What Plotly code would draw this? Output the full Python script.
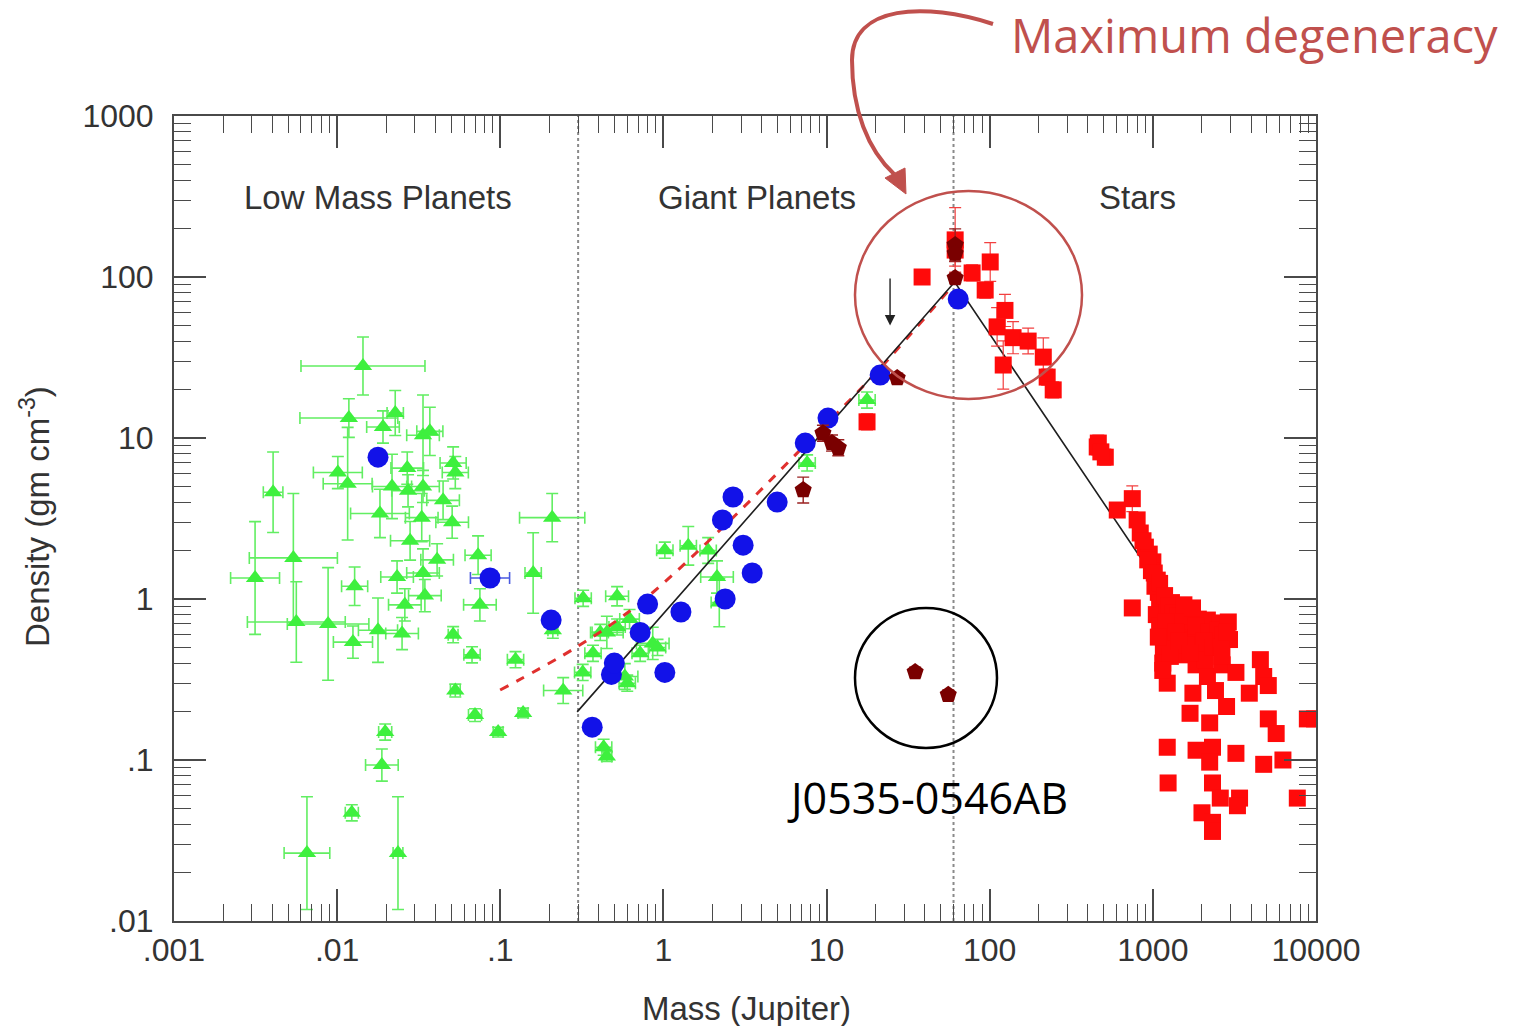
import numpy as np
import plotly.graph_objects as go

W, H = 1513, 1026

# ---------------- data ----------------
# Low-mass and giant planets (green triangles): mass [M_Jup], density [g/cm^3],
# and +/- uncertainties expressed in dex
planet_mass = [0.0144, 0.0118, 0.0227, 0.0191, 0.0336, 0.037, 0.0514, 0.053, 0.00405, 0.0101,
               0.0116, 0.0269, 0.0217, 0.0272, 0.0336, 0.0446, 0.0183, 0.033, 0.0507, 0.028,
               0.208, 0.00539, 0.00314, 0.0731, 0.159, 0.0128, 0.0233, 0.0336, 0.041, 0.026,
               0.0345, 0.075, 0.21, 0.00562, 0.0088, 0.0125, 0.0178, 0.025, 0.0514, 0.0671,
               0.124, 0.053, 0.070, 0.097, 0.138, 0.243, 0.0197, 0.0188, 0.0123, 0.00653,
               0.0236, 1.02, 1.42, 1.88, 0.322, 0.52, 2.13, 2.2, 0.45, 0.86,
               0.43, 0.45, 0.58, 0.41, 0.52, 0.37, 0.72, 0.92, 0.32, 0.60,
               0.62, 7.6, 17.7]
planet_dens = [28.0, 13.3, 14.3, 11.7, 10.4, 11.0, 7.0, 6.1, 4.6, 6.1,
               5.2, 6.5, 5.0, 4.7, 5.0, 4.1, 3.4, 3.2, 3.0, 2.3,
               3.2, 1.8, 1.35, 1.87, 1.45, 1.2, 1.37, 1.45, 1.75, 0.92,
               1.05, 0.92, 0.64, 0.72, 0.70, 0.54, 0.64, 0.61, 0.60, 0.45,
               0.42, 0.27, 0.19, 0.149, 0.196, 0.27, 0.149, 0.093, 0.047, 0.0264,
               0.0264, 2.01, 2.14, 2.0, 1.01, 1.04, 1.37, 0.95, 0.62, 0.53,
               0.12, 0.105, 0.33, 0.62, 0.67, 0.46, 0.46, 0.50, 0.35, 0.30,
               0.75, 7.0, 17.2]
planet_mass_err = [0.38, 0.30, 0.05, 0.10, 0.10, 0.08, 0.08, 0.08, 0.06, 0.15,
                   0.15, 0.10, 0.12, 0.10, 0.10, 0.10, 0.18, 0.10, 0.10, 0.12,
                   0.20, 0.27, 0.15, 0.08, 0.05, 0.08, 0.10, 0.10, 0.10, 0.10,
                   0.10, 0.10, 0.03, 0.30, 0.25, 0.12, 0.12, 0.10, 0.03, 0.05,
                   0.05, 0.03, 0.04, 0.03, 0.03, 0.12, 0.04, 0.10, 0.04, 0.14,
                   0.03, 0.05, 0.05, 0.05, 0.05, 0.07, 0.10, 0.05, 0.10, 0.10,
                   0.05, 0.03, 0.08, 0.05, 0.05, 0.05, 0.05, 0.05, 0.05, 0.05,
                   0.06, 0.05, 0.05]
planet_dens_err = [0.18, 0.12, 0.14, 0.10, 0.25, 0.15, 0.10, 0.10, 0.25, 0.10,
                   0.35, 0.10, 0.20, 0.10, 0.10, 0.12, 0.15, 0.15, 0.10, 0.12,
                   0.15, 0.40, 0.35, 0.12, 0.25, 0.12, 0.10, 0.15, 0.10, 0.10,
                   0.10, 0.10, 0.05, 0.25, 0.35, 0.10, 0.20, 0.10, 0.05, 0.05,
                   0.05, 0.04, 0.04, 0.03, 0.03, 0.08, 0.05, 0.10, 0.05, 0.35,
                   0.35, 0.05, 0.12, 0.08, 0.05, 0.06, 0.10, 0.15, 0.10, 0.10,
                   0.05, 0.03, 0.08, 0.05, 0.05, 0.05, 0.05, 0.05, 0.05, 0.05,
                   0.06, 0.05, 0.05]

# Transiting planets with measured radii (blue circles)
transit_mass = [0.0178, 0.0865, 0.205, 0.366, 0.48, 0.50, 0.72, 0.80, 1.02, 1.28,
                2.39, 2.30, 2.67, 3.08, 3.5, 4.98, 7.4, 10.2, 21.3, 64.1]
transit_dens = [7.6, 1.35, 0.74, 0.160, 0.34, 0.40, 0.62, 0.93, 0.35, 0.83,
                1.0, 3.1, 4.3, 2.16, 1.45, 4.0, 9.3, 13.3, 24.6, 72.9]
transit_mass_err = [0.03, 0.12, 0.04, 0, 0, 0, 0, 0, 0, 0,
                    0, 0, 0, 0, 0, 0, 0, 0, 0, 0]

# Brown dwarfs (dark red pentagons)
bd_mass = [7.19, 9.5, 10.8, 11.8, 27.1, 34.9, 55.7, 61.4, 61.4, 61.4]
bd_dens = [4.75, 10.7, 9.3, 8.7, 23.6, 0.352, 0.254, 158, 140, 98.6]
bd_dens_err = [0.08, 0.05, 0.05, 0.05, 0.03, 0.03, 0.03, 0.10, 0.05, 0.03]

# Low-mass stars (red squares)
star_mass = [17.7, 38.5, 61.4, 61.4, 100.7, 78, 93.8, 124, 111, 139,
             172, 121, 213, 225, 245, 463, 456, 511, 480, 748,
             605, 801, 837, 900, 950, 1000, 980, 1064, 748, 1120,
             1030, 1080, 1100, 1050, 1225, 1300, 1350, 1470, 1500, 1600,
             1695, 1650, 1900, 2000, 2158, 2590, 1160, 1400, 1840, 2420,
             1300, 1500, 1160, 1225, 1840, 2160, 2660, 3230, 4560, 4780,
             3900, 5100, 1760, 2420, 1690, 2830, 5100, 2230, 5700, 1225,
             1840, 2320, 3230, 4780, 6270, 8850, 9800, 1240, 2230, 2320,
             2590, 3400, 3300, 2000, 2320, 2320, 7680, 1900, 2100, 1150,
             870, 930, 1020, 1100, 1180, 1250, 1320, 1420, 1550, 1750,
             1850, 2200, 2500, 2700, 2900, 2950, 1100, 1200, 1380, 1600,
             2050, 2350, 2600, 2850, 1280, 1450, 1700, 1080, 1150, 2650]
star_dens = [12.6, 100, 170, 147, 124, 106, 83, 62, 49, 42,
             40, 28.4, 31.8, 23.9, 19.9, 9.3, 8.8, 7.6, 8.2, 4.2,
             3.57, 3.1, 2.57, 2.1, 1.9, 1.7, 1.5, 1.31, 0.88, 1.0,
             1.2, 1.1, 0.95, 0.8, 0.83, 0.95, 0.75, 0.86, 0.7, 0.6,
             0.71, 0.8, 0.75, 0.65, 0.74, 0.71, 0.62, 0.57, 0.57, 0.53,
             0.5, 0.45, 0.46, 0.30, 0.39, 0.33, 0.39, 0.35, 0.42, 0.33,
             0.26, 0.29, 0.26, 0.27, 0.195, 0.215, 0.18, 0.17, 0.146, 0.12,
             0.115, 0.12, 0.11, 0.094, 0.10, 0.18, 0.18, 0.072, 0.097, 0.072,
             0.058, 0.058, 0.052, 0.047, 0.041, 0.036, 0.058, 0.5, 0.42, 0.40,
             2.3, 1.75, 1.45, 1.25, 1.05, 0.9, 0.82, 0.78, 0.92, 0.88,
             0.68, 0.62, 0.64, 0.6, 0.72, 0.56, 0.68, 0.72, 0.62, 0.52,
             0.55, 0.5, 0.5, 0.62, 0.44, 0.55, 0.46, 0.58, 0.36, 0.44]
star_dens_err = ([0.05, 0, 0.2, 0.1, 0.12, 0.05, 0.05, 0.1, 0.12, 0.1,
                  0.08, 0.15, 0.12, 0.05, 0.05, 0.05, 0.05, 0.05, 0, 0.08]
                 + [0] * 100)

# Model relations: solid power-law fit and dashed polytrope curve
fit_mass = [0.296, 61.0, 991.0]
fit_dens = [0.199, 93.0, 1.41]
poly_mass = [0.0998, 0.288, 0.719, 2.46, 7.19, 20.0, 55.0]
poly_dens = [0.272, 0.497, 0.944, 2.96, 8.8, 25.3, 81.0]

# Region boundaries [M_Jup]
boundary_mass = [0.3, 60.0]

# Upper-limit arrow position
limit_mass = 24.5
limit_dens = [100.0, 50.0]

x_tickvals = [0.001, 0.01, 0.1, 1, 10, 100, 1000, 10000]
x_ticktext = [".001", ".01", ".1", "1", "10", "100", "1000", "10000"]
y_tickvals = [0.01, 0.1, 1, 10, 100, 1000]
y_ticktext = [".01", ".1", "1", "10", "100", "1000"]

region_labels = ["Low Mass Planets", "Giant Planets", "Stars"]


# ---------------- helpers ----------------
def log_err(vals, dex):
    v = np.asarray(vals, float)
    e = np.asarray(dex, float)
    return v * (10 ** e - 1), v * (1 - 10 ** (-e))


def px(x, y):
    """Figure pixel position -> paper coordinates (margins are zero)."""
    return x / W, 1 - y / H


AXIS_COL = "#4a4a4a"
TEXT_COL = "#333333"
ANNOT_RED = "#C0504D"
GREEN = "#3EF03E"
SANS = "Liberation Sans, Arial, sans-serif"

fig = go.Figure()

# dotted region boundaries
for bm in boundary_mass:
    fig.add_trace(go.Scatter(x=[bm, bm], y=[0.01, 1000], mode="lines",
                             line=dict(color="#8a8a8a", width=2, dash="dot"),
                             hoverinfo="skip", showlegend=False))

# green planets
pxp, pxm = log_err(planet_mass, planet_mass_err)
pyp, pym = log_err(planet_dens, planet_dens_err)
fig.add_trace(go.Scatter(
    x=planet_mass, y=planet_dens, mode="markers",
    marker=dict(symbol="triangle-up", size=16, color=GREEN),
    error_x=dict(type="data", symmetric=False, array=pxp, arrayminus=pxm,
                 color="#62EE62", thickness=1.6, width=6),
    error_y=dict(type="data", symmetric=False, array=pyp, arrayminus=pym,
                 color="#62EE62", thickness=1.6, width=6),
    showlegend=False))

# model curves
fig.add_trace(go.Scatter(x=poly_mass, y=poly_dens, mode="lines",
                         line=dict(color="#E0302E", width=3, dash="dash", shape="spline"),
                         showlegend=False))
fig.add_trace(go.Scatter(x=fit_mass, y=fit_dens, mode="lines",
                         line=dict(color="#1f1f1f", width=1.6),
                         showlegend=False))

# transiting planets
bxp, bxm = log_err(transit_mass, transit_mass_err)
fig.add_trace(go.Scatter(
    x=transit_mass, y=transit_dens, mode="markers",
    marker=dict(symbol="circle", size=21, color="#1212E8"),
    error_x=dict(type="data", symmetric=False, array=bxp, arrayminus=bxm,
                 color="#4a5ae0", thickness=1.6, width=6),
    showlegend=False))

# stars
syp, sym = log_err(star_dens, star_dens_err)
fig.add_trace(go.Scatter(
    x=star_mass, y=star_dens, mode="markers",
    marker=dict(symbol="square", size=17, color="#FF0A0A"),
    error_y=dict(type="data", symmetric=False, array=syp, arrayminus=sym,
                 color="#F24040", thickness=1.2, width=6),
    showlegend=False))

# brown dwarfs
dyp, dym = log_err(bd_dens, bd_dens_err)
fig.add_trace(go.Scatter(
    x=bd_mass, y=bd_dens, mode="markers",
    marker=dict(symbol="pentagon", size=18, color="#7A0000"),
    error_y=dict(type="data", symmetric=False, array=dyp, arrayminus=dym,
                 color="#9a2020", thickness=1.4, width=6),
    showlegend=False))


def minor_vals(lo, hi):
    return [m * 10.0 ** k for k in range(lo, hi) for m in range(2, 10)]


x_dom = [174 / W, 1316 / W]
y_dom = [1 - 921 / H, 1 - 116 / H]

common_axis = dict(
    automargin=False,
    showline=True, linecolor=AXIS_COL, linewidth=2, mirror="allticks",
    ticks="inside", ticklen=32, tickwidth=1.5, tickcolor=AXIS_COL,
    showgrid=False, zeroline=False,
    tickfont=dict(family=SANS, size=32, color=TEXT_COL),
)

fig.update_xaxes(type="log", range=[-3, 4], domain=x_dom,
                 tickmode="array", tickvals=x_tickvals, ticktext=x_ticktext,
                 ticklabelstandoff=0,
                 minor=dict(ticks="inside", ticklen=17, tickwidth=1.3, tickcolor=AXIS_COL,
                            tickvals=minor_vals(-3, 4), showgrid=False),
                 **common_axis)
fig.update_yaxes(type="log", range=[-2, 3], domain=y_dom,
                 tickmode="array", tickvals=y_tickvals, ticktext=y_ticktext,
                 ticklabelstandoff=12,
                 minor=dict(ticks="inside", ticklen=17, tickwidth=1.3, tickcolor=AXIS_COL,
                            tickvals=minor_vals(-2, 3), showgrid=False),
                 **common_axis)

annots = []
# region labels
for label, (lx, ly) in zip(region_labels, [(378, 197), (757, 197), (1137, 197)]):
    ax_, ay_ = px(lx, ly)
    annots.append(dict(x=ax_, y=ay_, xref="paper", yref="paper", text=label,
                       showarrow=False, xanchor="center", yanchor="middle",
                       font=dict(family=SANS, size=33, color=TEXT_COL)))

# axis titles
tx, ty = px(746, 1008)
annots.append(dict(x=tx, y=ty, xref="paper", yref="paper", text="Mass (Jupiter)",
                   showarrow=False, xanchor="center", yanchor="middle",
                   font=dict(family=SANS, size=33, color=TEXT_COL)))
tx, ty = px(35, 517)
annots.append(dict(x=tx, y=ty, xref="paper", yref="paper",
                   text="Density (gm cm<sup>-3</sup>)", textangle=-90,
                   showarrow=False, xanchor="center", yanchor="middle",
                   font=dict(family=SANS, size=33, color=TEXT_COL)))

# upper-limit arrow
annots.append(dict(x=np.log10(limit_mass), y=np.log10(limit_dens[1]),
                   ax=np.log10(limit_mass), ay=np.log10(limit_dens[0]),
                   xref="x", yref="y", axref="x", ayref="y", text="",
                   showarrow=True, arrowhead=2, arrowsize=1.5, arrowwidth=1.4,
                   arrowcolor="#222222"))

# callout texts
tx, ty = px(1254, 35)
annots.append(dict(x=tx, y=ty, xref="paper", yref="paper", text="Maximum degeneracy",
                   showarrow=False, xanchor="center", yanchor="middle",
                   font=dict(family="Open Sans, sans-serif", size=47, color=ANNOT_RED)))
tx, ty = px(927, 797)
annots.append(dict(x=tx, y=ty, xref="paper", yref="paper", text="J0535-0546AB",
                   showarrow=False, xanchor="center", yanchor="middle",
                   font=dict(family="Open Sans, sans-serif", size=43, color="#000000")))

shapes = []
# red highlight ellipse around the density peak
x0, y1 = px(855, 191)
x1, y0 = px(1082, 399)
shapes.append(dict(type="circle", xref="paper", yref="paper", x0=x0, x1=x1, y0=y0, y1=y1,
                   line=dict(color=ANNOT_RED, width=2.5)))
# black circle around the eclipsing brown-dwarf pair
x0, y1 = px(855, 608)
x1, y0 = px(997, 748)
shapes.append(dict(type="circle", xref="paper", yref="paper", x0=x0, x1=x1, y0=y0, y1=y1,
                   line=dict(color="#000000", width=2.5)))


def pstr(x, y):
    a, b = px(x, y)
    return f"{a:.5f},{b:.5f}"


curve = (f"M {pstr(993, 24)} C {pstr(925, 2)} {pstr(852, 5)} {pstr(852, 60)} "
         f"C {pstr(852, 110)} {pstr(868, 150)} {pstr(894, 174)}")
shapes.append(dict(type="path", xref="paper", yref="paper", path=curve,
                   line=dict(color=ANNOT_RED, width=4)))
head = f"M {pstr(906, 194)} L {pstr(905, 168)} L {pstr(885, 178)} Z"
shapes.append(dict(type="path", xref="paper", yref="paper", path=head,
                   fillcolor=ANNOT_RED, line=dict(color=ANNOT_RED, width=1)))

fig.update_layout(
    width=W, height=H,
    margin=dict(l=0, r=0, t=0, b=0, autoexpand=False),
    paper_bgcolor="white", plot_bgcolor="white",
    showlegend=False,
    annotations=annots, shapes=shapes,
)

fig.write_html("out.html")
